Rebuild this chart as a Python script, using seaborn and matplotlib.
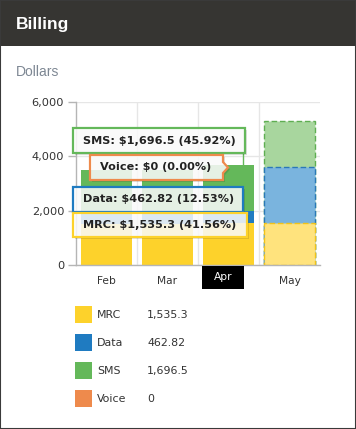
import matplotlib
matplotlib.use("Agg")
import matplotlib.pyplot as plt
from matplotlib.patches import Rectangle, Polygon
from matplotlib.ticker import FixedLocator
import seaborn as sns
import numpy as np

# ---------------- data ----------------
months = ["Feb", "Mar", "Apr", "May"]
mrc = [1520.0, 1525.0, 1535.3, 1535.0]
data_vals = [460.0, 455.0, 462.82, 2085.0]
sms = [1520.0, 1520.0, 1696.5, 1685.0]
voice = [0.0, 0.0, 0.0, 0.0]
highlight_month = "Apr"
forecast_month = "May"

series_names = ["MRC", "Data", "SMS", "Voice"]
legend_values = ["1,535.3", "462.82", "1,696.5", "0"]
tooltip_labels = ["SMS: $1,696.5 (45.92%)", "Voice: $0 (0.00%)",
                  "Data: $462.82 (12.53%)", "MRC: $1,535.3 (41.56%)"]
yticks = [0, 2000, 4000, 6000]
ytick_labels = ["0", "2,000", "4,000", "6,000"]

# ---------------- style ----------------
sns.set_theme(style="whitegrid")
plt.rcParams["font.family"] = ["DejaVu Sans"]

colors = {"MRC": "#fdd22b", "Data": "#1f7bc1", "SMS": "#64b85a", "Voice": "#ee8a4c"}
light = {"MRC": "#ffe37d", "Data": "#7ab4de", "SMS": "#a8d69e"}
edge_dark = {"MRC": "#f2c318", "Data": "#2a78b8", "SMS": "#5fae52"}

W, H = 356, 429
fig = plt.figure(figsize=(W / 100, H / 100), dpi=100)
fig.patch.set_facecolor("white")

def fx(px):
    return px / W

def fy(py):
    return 1 - py / H

# header
fig.patches.append(Rectangle((0, fy(46)), 1, 46 / H, transform=fig.transFigure,
                             facecolor="#363532", edgecolor="none", zorder=0))
fig.text(fx(16), fy(24), "Billing", color="white", fontsize=12.5, fontweight="bold",
         family="Liberation Sans", va="center", ha="left")
fig.text(fx(16), fy(72), "Dollars", color="#7d8793", fontsize=10,
         family="Liberation Sans", va="center", ha="left")

ax = fig.add_axes([fx(76), fy(265), 244 / W, 163 / H])

top1 = np.array(mrc)
top2 = top1 + np.array(data_vals)
top3 = top2 + np.array(sms) + np.array(voice)

layers = [("SMS", top3), ("Data", top2), ("MRC", top1)]
bar_width = 0.84
for name, vals in layers:
    pal = [light[name] if m == forecast_month else colors[name] for m in months]
    sns.barplot(x=months, y=vals, hue=months, palette=pal, width=bar_width,
                saturation=1, legend=False, ax=ax, linewidth=0, zorder=2)
    for p in ax.patches[-len(months):]:
        cx = p.get_x() + p.get_width() / 2
        if months[int(round(cx))] == forecast_month:
            p.set_edgecolor(edge_dark[name])
            p.set_linestyle((0, (4, 2)))
            p.set_linewidth(1.0)

ax.set_xlim(-0.5, 3.5)
ax.set_ylim(0, 6000)
ax.set_yticks(yticks)
ax.set_yticklabels(ytick_labels)
ax.set_xticks(range(len(months)))
ax.set_xticklabels(["" if m == highlight_month else m for m in months])
ax.set_xlabel("")
ax.set_ylabel("")
ax.xaxis.set_minor_locator(FixedLocator([0.5, 1.5, 2.5]))
ax.grid(axis="x", which="major", visible=False)
ax.grid(axis="x", which="minor", color="#e6e6e6", linewidth=1)
ax.grid(axis="y", which="major", color="#e6e6e6", linewidth=1)
ax.set_axisbelow(True)
for s in ["top", "right"]:
    ax.spines[s].set_visible(False)
for s in ["left", "bottom"]:
    ax.spines[s].set_color("#b5b5b5")
    ax.spines[s].set_linewidth(1)
ax.tick_params(axis="y", which="major", length=5.5, width=1, color="#b5b5b5",
               labelsize=8.2, labelcolor="#333333", pad=3, left=True)
ax.tick_params(axis="x", which="both", length=0, labelsize=7.7, labelcolor="#333333", pad=8)

# highlighted category: black box with white label
fig.patches.append(Rectangle((fx(202), fy(289)), 42 / W, 23 / H, transform=fig.transFigure,
                             facecolor="black", edgecolor="none", zorder=5))
fig.text(fx(223), fy(277.5), highlight_month, color="white", fontsize=7.7,
         ha="center", va="center", zorder=6)

# ---------------- tooltips ----------------
tip_colors = ["SMS", "Voice", "Data", "MRC"]
boxes = [(73, 245, 128, 153, 83), (90, 223, 155, 180, 100),
         (73, 243, 187, 212, 83), (73, 247, 213, 237, 83)]
for (lab, key, (x0, x1, y0, y1, tx)) in zip(tooltip_labels, tip_colors, boxes):
    if key == "Voice":
        ym = (y0 + y1) / 2
        pts = [(x0, y0), (x1, y0), (x1, ym - 5.5), (x1 + 5, ym), (x1, ym + 5.5),
               (x1, y1), (x0, y1)]
    else:
        pts = [(x0, y0), (x1, y0), (x1, y1), (x0, y1)]
    shadow = [(fx(px + 2), fy(py + 2)) for px, py in pts]
    fig.patches.append(Polygon(shadow, closed=True, transform=fig.transFigure,
                               facecolor="black", alpha=0.12, edgecolor="none", zorder=3))
    poly = [(fx(px), fy(py)) for px, py in pts]
    fig.patches.append(Polygon(poly, closed=True, transform=fig.transFigure,
                               facecolor=(1, 1, 1, 0.85), edgecolor=colors[key],
                               linewidth=1.6, zorder=4))
    fig.text(fx(tx), fy((y0 + y1) / 2), lab, fontsize=8.1, fontweight="bold",
             color="#222222", va="center", ha="left", zorder=5)

# small connector line from SMS tooltip to Apr bar
fig.lines.append(plt.Line2D([fx(243), fx(243)], [fy(153), fy(165)], transform=fig.transFigure,
                            color=colors["SMS"], linewidth=1, zorder=3))

# ---------------- legend ----------------
row_y = [315, 343, 371, 399]
for name, val, ry in zip(series_names, legend_values, row_y):
    fig.patches.append(Rectangle((fx(75), fy(ry + 8)), 17 / W, 17 / H, transform=fig.transFigure,
                                 facecolor=colors[name], edgecolor="none", zorder=2))
    fig.text(fx(97), fy(ry), name, fontsize=7.9, color="#333333", va="center", ha="left")
    fig.text(fx(147), fy(ry), val, fontsize=7.9, color="#333333", va="center", ha="left")

# outer border
fig.patches.append(Rectangle((0, 0), 1, 1, transform=fig.transFigure, fill=False,
                             edgecolor="#3a3a3a", linewidth=1.5, zorder=10))

fig.savefig("out.png", dpi=100)
